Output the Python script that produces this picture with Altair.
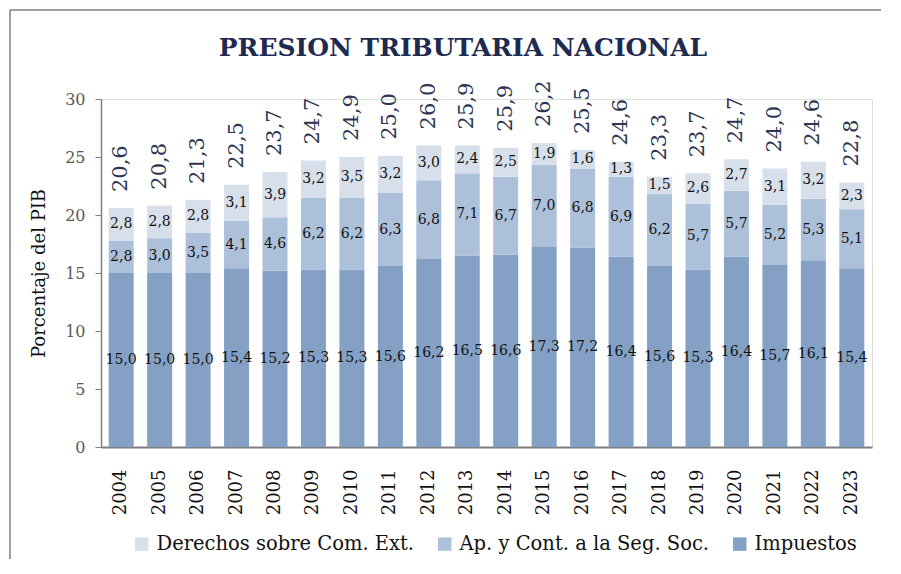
import altair as alt
import pandas as pd

years = [str(y) for y in range(2004, 2024)]
impuestos = [15.0, 15.0, 15.0, 15.4, 15.2, 15.3, 15.3, 15.6, 16.2, 16.5,
             16.6, 17.3, 17.2, 16.4, 15.6, 15.3, 16.4, 15.7, 16.1, 15.4]
seg_social = [2.8, 3.0, 3.5, 4.1, 4.6, 6.2, 6.2, 6.3, 6.8, 7.1,
              6.7, 7.0, 6.8, 6.9, 6.2, 5.7, 5.7, 5.2, 5.3, 5.1]
derechos = [2.8, 2.8, 2.8, 3.1, 3.9, 3.2, 3.5, 3.2, 3.0, 2.4,
            2.5, 1.9, 1.6, 1.3, 1.5, 2.6, 2.7, 3.1, 3.2, 2.3]
totales = [20.6, 20.8, 21.3, 22.5, 23.7, 24.7, 24.9, 25.0, 26.0, 25.9,
           25.9, 26.2, 25.5, 24.6, 23.3, 23.7, 24.7, 24.0, 24.6, 22.8]

series_names = ["Derechos sobre Com. Ext.", "Ap. y Cont. a la Seg. Soc.", "Impuestos"]
series_colors = ["#D7DFEB", "#ADC0DA", "#84A1C5"]
title_text = ["PRESION TRIBUTARIA NACIONAL"]

FONT = "DejaVu Serif"


def fmt(v):
    return f"{v:.1f}".replace(".", ",")


rows = []
tops = []
for i, yr in enumerate(years):
    base = 0.0
    for name, vals, order in [(series_names[2], impuestos, 1),
                              (series_names[1], seg_social, 2),
                              (series_names[0], derechos, 3)]:
        v = vals[i]
        rows.append(dict(year=yr, serie=name, valor=v, orden=order,
                         mid=base + v / 2, label=fmt(v)))
        base += v
    tops.append(base)
df = pd.DataFrame(rows)
tot_df = pd.DataFrame(dict(year=years, top=tops, label=[fmt(t) for t in totales]))
title_df = pd.DataFrame(dict(t=title_text))

xenc = alt.X("year:N", title=None,
             scale=alt.Scale(paddingInner=0.35, paddingOuter=0.2),
             axis=alt.Axis(labelAngle=270, labelFont=FONT, labelFontSize=18,
                           labelColor="#111111", labelPadding=22, ticks=False,
                           domainColor="#808080", domainWidth=2,
                           labelAlign="right", labelBaseline="middle"))

bars = alt.Chart(df).mark_bar().encode(
    x=xenc,
    y=alt.Y("valor:Q", stack="zero", title="Porcentaje del PIB",
            scale=alt.Scale(domain=[0, 30]),
            axis=alt.Axis(values=[0, 5, 10, 15, 20, 25, 30], grid=False,
                          labelFont=FONT, labelFontSize=16, labelColor="#595959",
                          labelPadding=10, tickSize=6, tickColor="#7f7f7f",
                          domainColor="#7f7f7f", domainWidth=1.5,
                          titleFont=FONT, titleFontSize=18, titleFontWeight="normal",
                          titleColor="#111111", titlePadding=16)),
    color=alt.Color("serie:N",
                    scale=alt.Scale(domain=series_names, range=series_colors),
                    legend=alt.Legend(title=None, orient="none", direction="horizontal",
                                      legendX=31, legendY=435, labelLimit=0,
                                      labelFont=FONT, labelFontSize=19.5,
                                      labelColor="#111111", symbolType="square",
                                      symbolSize=180, symbolStrokeWidth=0,
                                      columnPadding=20, labelOffset=5)),
    order=alt.Order("orden:Q", sort="ascending"),
)

seg_text = alt.Chart(df).mark_text(font=FONT, fontSize=14, color="#111111",
                                   baseline="middle", align="center").encode(
    x=alt.X("year:N"),
    y=alt.Y("mid:Q"),
    text="label:N",
)

tot_text = alt.Chart(tot_df).mark_text(font=FONT, fontSize=21, color="#2e3552",
                                       angle=270, align="left", baseline="middle",
                                       dx=16).encode(
    x=alt.X("year:N"),
    y=alt.Y("top:Q"),
    text="label:N",
)

title_mark = alt.Chart(title_df).mark_text(font=FONT, fontSize=25, fontWeight="bold",
                                           color="#1f2a50", align="center",
                                           baseline="middle").encode(
    x=alt.value(362), y=alt.value(-51), text="t:N")

frame_left = alt.Chart(title_df).mark_rule(color="#7f7f7f", strokeWidth=1.5).encode(
    x=alt.value(-91), y=alt.value(-89), y2=alt.value(460))
frame_top = alt.Chart(title_df).mark_rule(color="#7f7f7f", strokeWidth=1.5).encode(
    x=alt.value(-91), x2=alt.value(780), y=alt.value(-89))

chart = alt.layer(bars, seg_text, tot_text, title_mark, frame_left, frame_top).properties(
    width=771, height=348,
    autosize=alt.AutoSizeParams(type="none"),
    padding={"left": 93, "top": 91, "right": 21, "bottom": 119},
).configure_view(stroke=None).configure(background="white")

chart.save("out.html", embed_options={"renderer": "svg", "actions": False})
